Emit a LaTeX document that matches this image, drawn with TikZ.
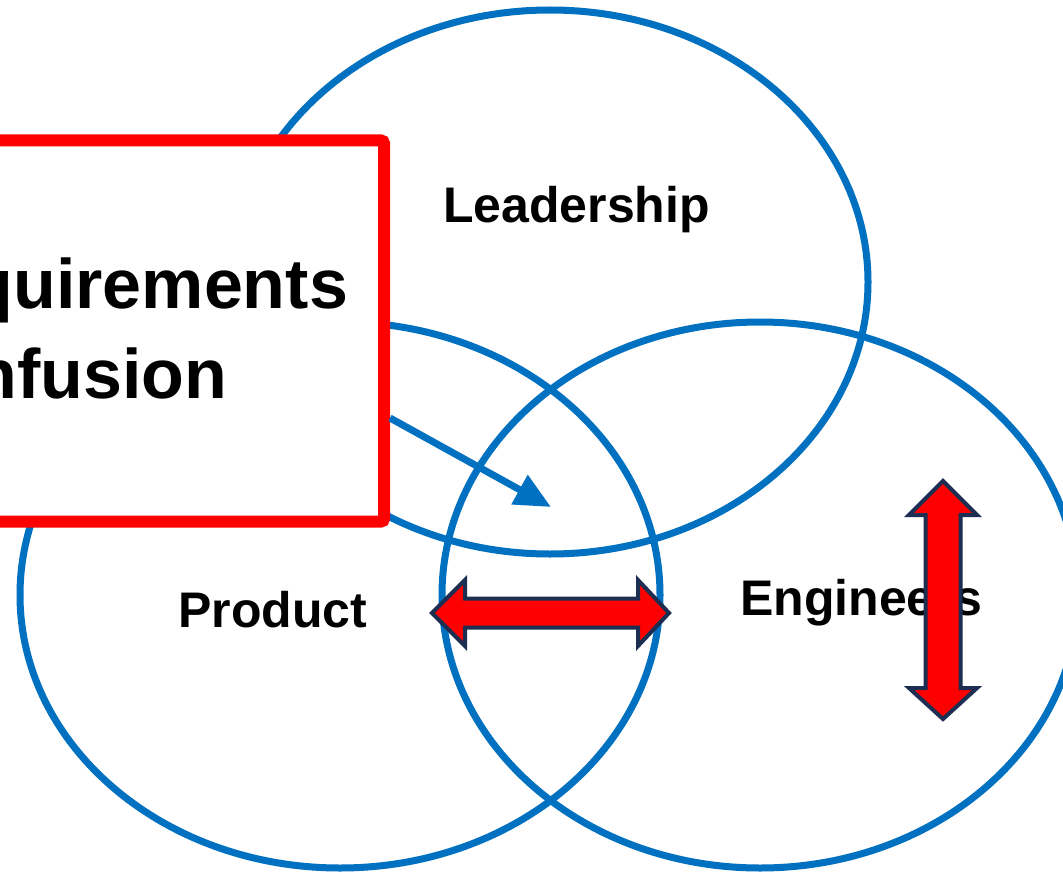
\documentclass[tikz,border=0pt]{standalone}
\usepackage{fontspec}
\setmainfont{Liberation Sans}
\usetikzlibrary{shapes.geometric,arrows.meta,calc}
\definecolor{vblue}{HTML}{0070C0}
\definecolor{vred}{HTML}{FF0000}
\definecolor{vnavy}{HTML}{1C2E52}
\begin{document}
\begin{tikzpicture}[x=1pt,y=-1pt,
  venn/.style={ellipse, draw=vblue, line width=7pt, inner sep=0pt},
  lab/.style={font=\fontsize{50}{60}\selectfont\bfseries, inner sep=0pt, text=black},
  blockarr/.style={draw=vnavy, fill=vred, line width=4pt, line join=miter},
  pointer/.style={draw=vblue, line width=7pt, -{Triangle[length=36pt,width=32pt]}}]
\useasboundingbox (0,0) rectangle (1063,872);
\clip (0,0) rectangle (1063,872);
\fill[white] (0,0) rectangle (1063,872);
% Venn ellipses
\node[venn, minimum width=636pt, minimum height=544pt] (lead) at (550,282) {};
\node[venn, minimum width=640pt, minimum height=546pt] (prod) at (340,595) {};
\node[venn, minimum width=636pt, minimum height=546pt] (eng) at (760,595) {};
% red box
\node[draw=vred, line width=12pt, fill=white, rounded corners=3pt,
      minimum width=484pt, minimum height=381pt, inner sep=0pt] (box) at (142,331) {};
\node[anchor=base west, align=left, inner sep=0pt,
      font=\fontsize{70}{90}\selectfont\bfseries] (req) at (-119,398) {Requirements\\Confusion};
% labels
\node[lab, anchor=base west] (leadlab) at (443,222) {Leadership};
\node[lab, anchor=base west] (prodlab) at (178,627) {Product};
\node[lab, anchor=base west] (englab) at (740,615) {Engineers};
% pointer arrow
\coordinate (src) at ($(box.east)+(0,87)$);
\coordinate (tip) at (551,507);
\draw[pointer] (src) -- (tip);
% block double arrows
\draw[blockarr] (432,613) -- (465,580) -- (465,598.5) -- (638,598.5) -- (638,580) -- (669,613)
  -- (638,646) -- (638,627.5) -- (465,627.5) -- (465,646) -- cycle;
\draw[blockarr] (943,481) -- (977,515) -- (960.5,515) -- (960.5,688) -- (977,688) -- (943,719)
  -- (909,688) -- (925.5,688) -- (925.5,515) -- (909,515) -- cycle;
\end{tikzpicture}
\end{document}
